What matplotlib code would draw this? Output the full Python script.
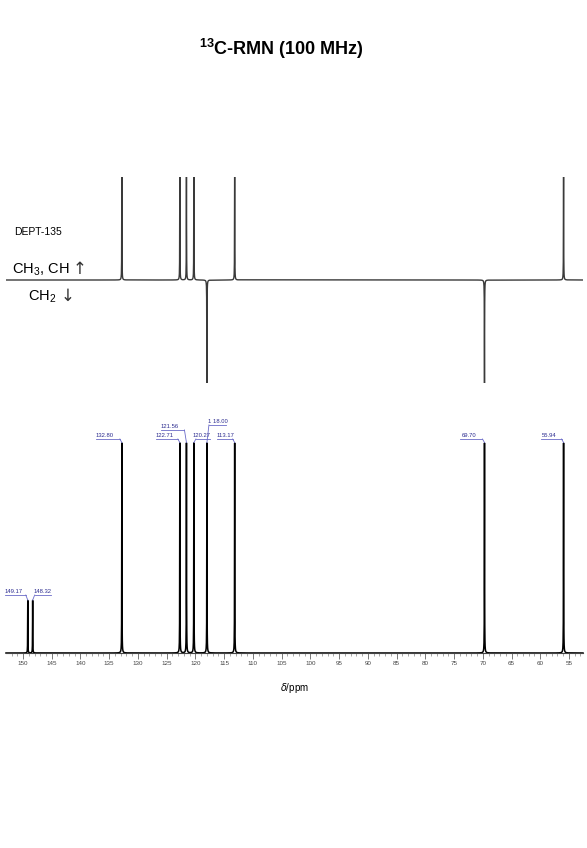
import matplotlib
matplotlib.use("Agg")
from matplotlib import pyplot as plt
import numpy as np

# 13C shifts (ppm) and relative heights
shifts = [149.17, 148.32, 132.80, 122.71, 121.56, 120.27, 118.00, 113.17, 69.70, 55.94]
heights = [0.25, 0.25, 1.0, 1.0, 1.0, 1.0, 1.0, 1.0, 1.0, 1.0]
peak_labels = ["149.17", "148.32", "132.80", "122.71", "121.56", "120.27", "1 18.00", "113.17", "69.70", "55.94"]

# DEPT-135 phase: +1 CH/CH3, -1 CH2 (quaternary carbons absent)
dept_shifts = [132.80, 122.71, 121.56, 120.27, 118.00, 113.17, 69.70, 55.94]
dept_sign = [1, 1, 1, 1, -1, 1, -1, 1]

# label layout (ppm of text centre, height of underline)
label_x = [151.65, 146.69, 135.82, 125.29, 124.51, 118.94, 116.16, 114.76, 72.39, 58.39]
label_y = [0.276, 0.276, 1.019, 1.019, 1.062, 1.019, 1.086, 1.019, 1.019, 1.019]

xmax, xmin = 152.96, 52.56
major_ticks = np.arange(150, 54, -5)

plt.rcParams['font.family'] = ['Liberation Sans', 'DejaVu Sans']
plt.rcParams['mathtext.fontset'] = 'custom'
plt.rcParams['mathtext.rm'] = 'Liberation Sans'
plt.rcParams['mathtext.bf'] = 'Liberation Sans:bold'


def lorentz(x, centres, amps, w=0.02):
    y = np.zeros_like(x)
    for c, a in zip(centres, amps):
        y += a / (1 + ((x - c) / w) ** 2)
    return y


def main():
    x = np.union1d(np.linspace(xmin, xmax, 60001), shifts)

    fig = plt.figure(figsize=(5.87, 8.48), dpi=100)
    L, W = 6 / 587, 577 / 587

    fig.text(281 / 587, 1 - 49 / 848, r"$^{\mathbf{13}}$C-RMN (100 MHz)",
             ha='center', va='center', fontsize=13, fontweight='bold')

    ##########
    ## DEPT ##
    ##########
    ax_d = fig.add_axes([L, 1 - 383 / 848, W, 206 / 848])
    y_d = lorentz(x, dept_shifts, [1.2 * s for s in dept_sign])
    ax_d.plot(x, y_d, color='#3a3a3a', lw=1.0)
    ax_d.set_xlim(xmax, xmin)
    ax_d.set_ylim(-1, 1)
    ax_d.axis('off')

    fig.text(14 / 587, 1 - 232 / 848, "DEPT-135", ha='left', va='center', fontsize=7.5)
    fig.text(12 / 587, 1 - 270 / 848, r"CH$_3$, CH", ha='left', va='center', fontsize=10.5)
    fig.text(73 / 587, 1 - 269 / 848, "↑", ha='left', va='center', fontsize=12,
             family='DejaVu Sans', color='#333333')
    fig.text(28 / 587, 1 - 297 / 848, r"CH$_2$", ha='left', va='center', fontsize=10.5)
    fig.text(61 / 587, 1 - 296 / 848, "↓", ha='left', va='center', fontsize=12,
             family='DejaVu Sans', color='#333333')

    #########
    ## 13C ##
    #########
    ax = fig.add_axes([L, 1 - 653 / 848, W, 241.5 / 848])
    y_c = lorentz(x, shifts, heights)
    ax.plot(x, y_c, color='black', lw=1.1, clip_on=False)
    ax.set_xlim(xmax, xmin)
    ax.set_ylim(0, 1.15)
    for s in ['top', 'left', 'right']:
        ax.spines[s].set_visible(False)
    ax.spines['bottom'].set_color('#444444')
    ax.spines['bottom'].set_linewidth(0.8)
    ax.set_yticks([])
    ax.set_xticks(major_ticks)
    ax.set_xticklabels([str(t) for t in major_ticks])
    ax.set_xticks(np.arange(152, 52, -1), minor=True)
    ax.tick_params(axis='x', which='major', length=4, width=0.5, labelsize=4.5,
                   pad=1.5, colors='#444444')
    ax.tick_params(axis='x', which='minor', length=2.5, width=0.4, colors='#666666')
    ax.set_xlabel(r"$\it{\delta}$/ppm", fontsize=7, labelpad=11)

    # peak labels: text, underline and short leader to the peak top
    half = 1.5   # half text width, ppm
    gap = 0.35   # underline stops this far from the peak
    for s, h, lab, lx, ly in zip(shifts, heights, peak_labels, label_x, label_y):
        ax.text(lx, ly + 0.004, lab, ha='center', va='bottom', fontsize=4.2,
                color='#2b2b8f')
        if s < lx:   # peak to the right of the label
            far, near = lx + half, s + gap
        else:
            far, near = lx - half, s - gap
        ax.plot([far, near], [ly, ly], color='#6a6ac8', lw=0.6, clip_on=False)
        ax.plot([near, s], [ly, h + 0.002], color='#6a6ac8', lw=0.6, clip_on=False)

    fig.savefig("out.png", dpi=100)


if __name__ == "__main__":
    main()
